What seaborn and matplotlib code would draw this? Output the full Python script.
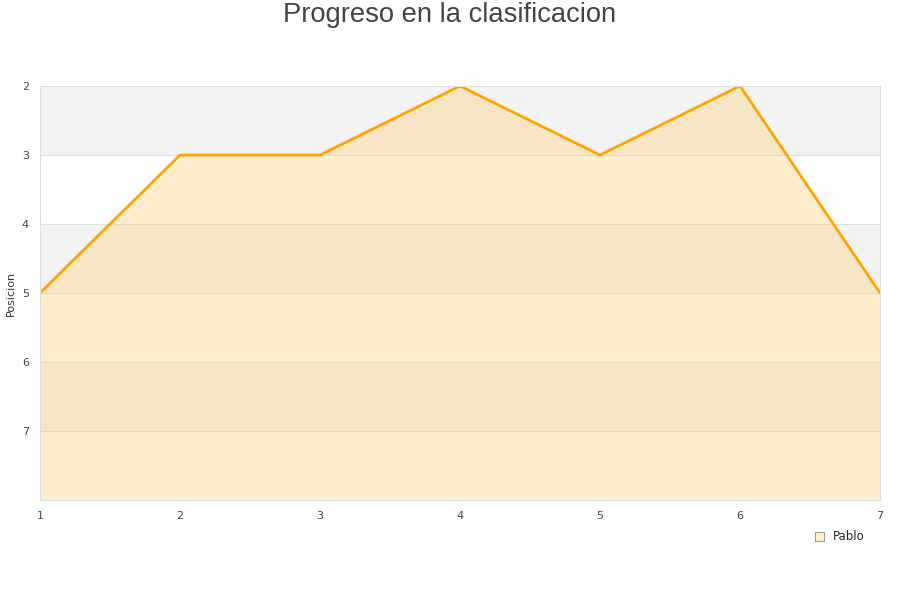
import matplotlib
matplotlib.use("Agg")
import matplotlib.pyplot as plt
import seaborn as sns
import pandas as pd
from matplotlib.patches import Patch

jornadas = [1, 2, 3, 4, 5, 6, 7]
posicion = [5, 3, 3, 2, 3, 2, 5]
serie = "Pablo"
yticks = [2, 3, 4, 5, 6, 7]

df = pd.DataFrame({"Jornada": jornadas, "Posicion": posicion})

sns.set_style("white")
plt.rcParams['font.family'] = ['DejaVu Sans']

fig = plt.figure(figsize=(9, 6), dpi=100)
ax = fig.add_axes([40/900, 1 - 500/600, 840/900, 414/600])

ymin, ymax = 2, 8
# alternating bands
for i, y0 in enumerate(range(ymin, ymax)):
    if i % 2 == 0:
        ax.axhspan(y0, y0 + 1, color="#f3f3f3", zorder=0, lw=0)
for y in range(ymin + 1, ymax):
    ax.axhline(y, color="#dddddd", lw=0.8, zorder=0.5)

ax.fill_between(df["Jornada"], df["Posicion"], ymax, color="#ffcc66", alpha=0.32, lw=0, zorder=1)
sns.lineplot(data=df, x="Jornada", y="Posicion", ax=ax, color="#ffa500", lw=2, zorder=2, legend=False)

ax.set_xlim(1, 7)
ax.set_ylim(ymax, ymin)
ax.set_xticks(jornadas)
ax.set_yticks(yticks)
ax.tick_params(axis="both", length=0, labelsize=8, colors="#444444", pad=8)
ax.set_xlabel("")
ax.set_ylabel("Posicion", fontsize=8, color="#333333")
ax.yaxis.set_label_coords(-24/840, 0.5)
for s in ax.spines.values():
    s.set_color("#dddddd")
    s.set_linewidth(0.8)

fig.text(0.5, 1 - 15/600, "Progreso en la clasificacion", ha="center", va="center",
         fontsize=19.7, color="#444444", family=["Liberation Sans", "DejaVu Sans"])

handle = Patch(facecolor="#feedcc", edgecolor="#888888", lw=0.6)
fig.legend([handle], [serie], loc="center", bbox_to_anchor=(840/900, 1 - 537/600),
           frameon=False, fontsize=8.5, handlelength=0.7, handleheight=0.7, handletextpad=0.8)

fig.savefig("out.png", dpi=100)
